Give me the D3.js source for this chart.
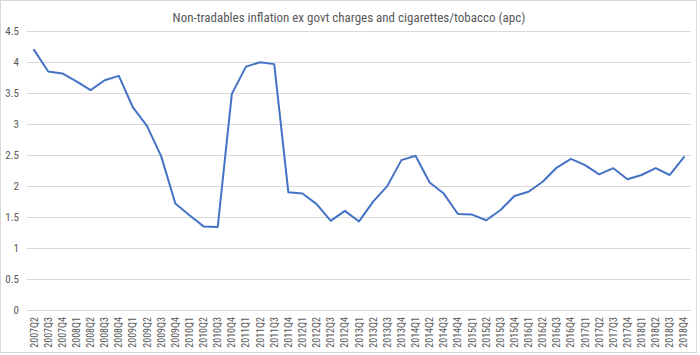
<!DOCTYPE html>
<html><head><meta charset="utf-8">
<script src="https://cdn.jsdelivr.net/npm/d3@7"></script>
<style>body{margin:0;background:#fff}svg{display:block}</style>
</head><body>
<script>
const categories = ["2007Q2","2007Q3","2007Q4","2008Q1","2008Q2","2008Q3","2008Q4","2009Q1","2009Q2","2009Q3","2009Q4","2010Q1","2010Q2","2010Q3","2010Q4","2011Q1","2011Q2","2011Q3","2011Q4","2012Q1","2012Q2","2012Q3","2012Q4","2013Q1","2013Q2","2013Q3","2013Q4","2014Q1","2014Q2","2014Q3","2014Q4","2015Q1","2015Q2","2015Q3","2015Q4","2016Q1","2016Q2","2016Q3","2016Q4","2017Q1","2017Q2","2017Q3","2017Q4","2018Q1","2018Q2","2018Q3","2018Q4"];
const values = [4.20,3.85,3.82,3.69,3.55,3.71,3.78,3.27,2.97,2.48,1.72,1.53,1.35,1.34,3.49,3.93,4.00,3.97,1.90,1.88,1.71,1.44,1.60,1.43,1.75,2.00,2.42,2.49,2.06,1.88,1.55,1.54,1.45,1.61,1.84,1.91,2.07,2.30,2.44,2.34,2.19,2.29,2.11,2.18,2.29,2.18,2.47];
const yTicks = [0,0.5,1,1.5,2,2.5,3,3.5,4,4.5];
const title = "Non-tradables inflation ex govt charges and cigarettes/tobacco (apc)";

const W = 700, H = 355;
const m = {left:27, right:9, top:31.3, bottom:45};
const svg = d3.select("body").append("svg").attr("width",W).attr("height",H);
svg.append("rect").attr("x",0.5).attr("y",0.5).attr("width",696).attr("height",352)
  .attr("fill","#fff").attr("stroke","#d9d9d9");

const x = d3.scaleBand().domain(categories).range([m.left, W-m.right]);
const y = d3.scaleLinear().domain([0,4.5]).range([H-m.bottom, m.top]);
const font = "'Liberation Sans Narrow','Roboto Condensed','Liberation Sans',sans-serif";

// gridlines
svg.append("g").selectAll("line").data(yTicks).join("line")
  .attr("x1",m.left).attr("x2",W-m.right)
  .attr("y1",d=>Math.round(y(d))+0.5).attr("y2",d=>Math.round(y(d))+0.5)
  .attr("stroke","#d9d9d9").attr("stroke-width",1);

// y axis labels
const yAxis = d3.axisLeft(y).tickValues(yTicks).tickSize(0).tickPadding(8).tickFormat(d3.format("~g"));
const gy = svg.append("g").attr("transform",`translate(${m.left},0)`).call(yAxis);
gy.select(".domain").remove();
gy.selectAll("text").attr("fill","#595959").style("font-family",font).style("font-size","11px");

// x axis labels
const xAxis = d3.axisBottom(x).tickSize(0).tickPadding(0);
const gx = svg.append("g").attr("transform",`translate(0,${H-m.bottom})`).call(xAxis);
gx.select(".domain").remove();
gx.selectAll("text").attr("fill","#595959").style("font-family",font).style("font-size","10px")
  .attr("text-anchor","end").attr("transform","rotate(-90)")
  .attr("x",-7).attr("y",0).attr("dy","0.35em");

// line
const line = d3.line().x((d,i)=>x(categories[i])+x.bandwidth()/2).y(d=>y(d));
svg.append("path").datum(values).attr("d",line).attr("fill","none")
  .attr("stroke","#4472C4").attr("stroke-width",2).attr("stroke-linejoin","round").attr("stroke-linecap","round");

// title
svg.append("text").attr("x",349).attr("y",22).attr("text-anchor","middle")
  .attr("fill","#595959").style("font-family",font).style("font-size","13px").text(title);
</script>
</body></html>
